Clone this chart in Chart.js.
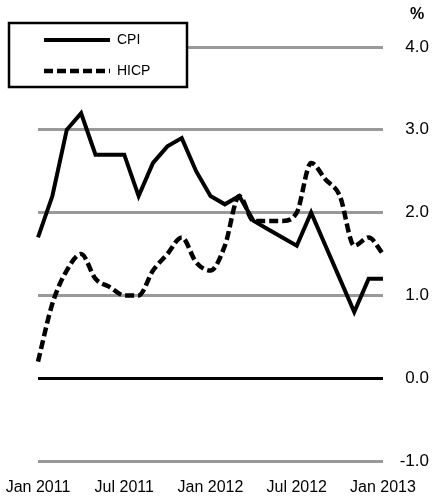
<!DOCTYPE html>
<html>
<head>
<meta charset="utf-8">
<script src="https://cdn.jsdelivr.net/npm/chart.js@4"></script>
<style>
  html, body { margin: 0; padding: 0; background: #fff; }
  #wrap { width: 436px; height: 502px; }
</style>
</head>
<body>
<div id="wrap"><canvas id="inflationChart"></canvas></div>
<script>
// Data
const months = [
    "Jan 2011", "Feb 2011", "Mar 2011", "Apr 2011", "May 2011", "Jun 2011",
    "Jul 2011", "Aug 2011", "Sep 2011", "Oct 2011", "Nov 2011", "Dec 2011",
    "Jan 2012", "Feb 2012", "Mar 2012", "Apr 2012", "May 2012", "Jun 2012",
    "Jul 2012", "Aug 2012", "Sep 2012", "Oct 2012", "Nov 2012", "Dec 2012",
    "Jan 2013",
];
const cpi = [1.7, 2.2, 3.0, 3.2, 2.7, 2.7, 2.7, 2.2, 2.6, 2.8, 2.9, 2.5,
    2.2, 2.1, 2.2, 1.9, 1.8, 1.7, 1.6, 2.0, 1.6, 1.2, 0.8, 1.2, 1.2];
const hicp = [0.2, 0.9, 1.3, 1.5, 1.2, 1.1, 1.0, 1.0, 1.3, 1.5, 1.7, 1.4,
    1.3, 1.6, 2.2, 1.9, 1.9, 1.9, 2.0, 2.6, 2.4, 2.2, 1.6, 1.7, 1.5];
const yTicks = [-1, 0, 1, 2, 3, 4];
const unitLabel = "%";

const FONT = "'Liberation Sans', Arial, Helvetica, sans-serif";

// boxed legend drawn over the plot, top left
const boxLegend = {
    id: "boxLegend",
    afterDatasetsDraw(chart) {
        const ctx = chart.ctx;
        const x0 = 9, y0 = 23, w = 178, h = 64;
        ctx.save();
        ctx.fillStyle = "#fff";
        ctx.fillRect(x0, y0, w, h);
        ctx.lineWidth = 2.5;
        ctx.strokeStyle = "#000";
        ctx.strokeRect(x0, y0, w, h);
        ctx.font = "14px " + FONT;
        ctx.textBaseline = "middle";
        ctx.fillStyle = "#000";
        chart.data.datasets.forEach((ds, i) => {
            const y = y0 + 17 + i * 31;
            ctx.beginPath();
            ctx.lineWidth = ds.borderWidth;
            ctx.setLineDash(ds.borderDash || []);
            ctx.moveTo(44, y);
            ctx.lineTo(110, y);
            ctx.stroke();
            ctx.setLineDash([]);
            ctx.fillText(ds.label, 117, y);
        });
        ctx.restore();
    },
};

// unit label above the value axis
const unitPlugin = {
    id: "unitPlugin",
    afterDraw(chart) {
        const ctx = chart.ctx;
        ctx.save();
        ctx.font = "bold 16px " + FONT;
        ctx.fillStyle = "#000";
        ctx.textAlign = "center";
        ctx.textBaseline = "middle";
        ctx.fillText(unitLabel, 417, 15);
        ctx.restore();
    },
};

const ctx = document.getElementById("inflationChart").getContext("2d");
const chart = new Chart(ctx, {
    type: "line",
    data: {
        labels: months,
        datasets: [
            {
                label: "CPI",
                data: cpi,
                borderColor: "#000",
                borderWidth: 4,
                tension: 0,
                pointRadius: 0,
                fill: false,
            },
            {
                label: "HICP",
                data: hicp,
                borderColor: "#000",
                borderWidth: 4.5,
                borderDash: [9, 4],
                cubicInterpolationMode: "monotone",
                pointRadius: 0,
                fill: false,
            },
        ],
    },
    options: {
        responsive: true,
        maintainAspectRatio: false,
        animation: false,
        layout: {
            padding: { left: 38, right: 7, top: 47, bottom: 0 },
        },
        plugins: {
            legend: { display: false },
            title: { display: false },
            tooltip: { enabled: false },
        },
        scales: {
            x: {
                offset: false,
                grid: { display: false, drawTicks: false },
                border: { display: false },
                afterFit: (scale) => {
                    scale.height = 41;
                    scale.paddingLeft = 0;
                    scale.paddingRight = 0;
                },
                ticks: {
                    autoSkip: false,
                    maxRotation: 0,
                    padding: 17,
                    color: "#000",
                    font: { family: FONT, size: 16 },
                    callback: (v, i) => (i % 6 === 0 ? months[i] : ""),
                },
            },
            y: {
                position: "right",
                min: -1,
                max: 4,
                afterBuildTicks: (scale) => {
                    scale.ticks = yTicks.map((v) => ({ value: v }));
                },
                afterFit: (scale) => {
                    scale.width = 46;
                },
                border: { display: false },
                grid: {
                    drawTicks: false,
                    lineWidth: 3,
                    color: (c) => (c.tick && c.tick.value === 0 ? "#000" : "#999"),
                },
                ticks: {
                    crossAlign: "far",
                    padding: 11,
                    color: "#000",
                    font: { family: FONT, size: 17 },
                    callback: (v) => v.toFixed(1),
                },
            },
        },
    },
    plugins: [boxLegend, unitPlugin],
});
</script>
</body>
</html>
